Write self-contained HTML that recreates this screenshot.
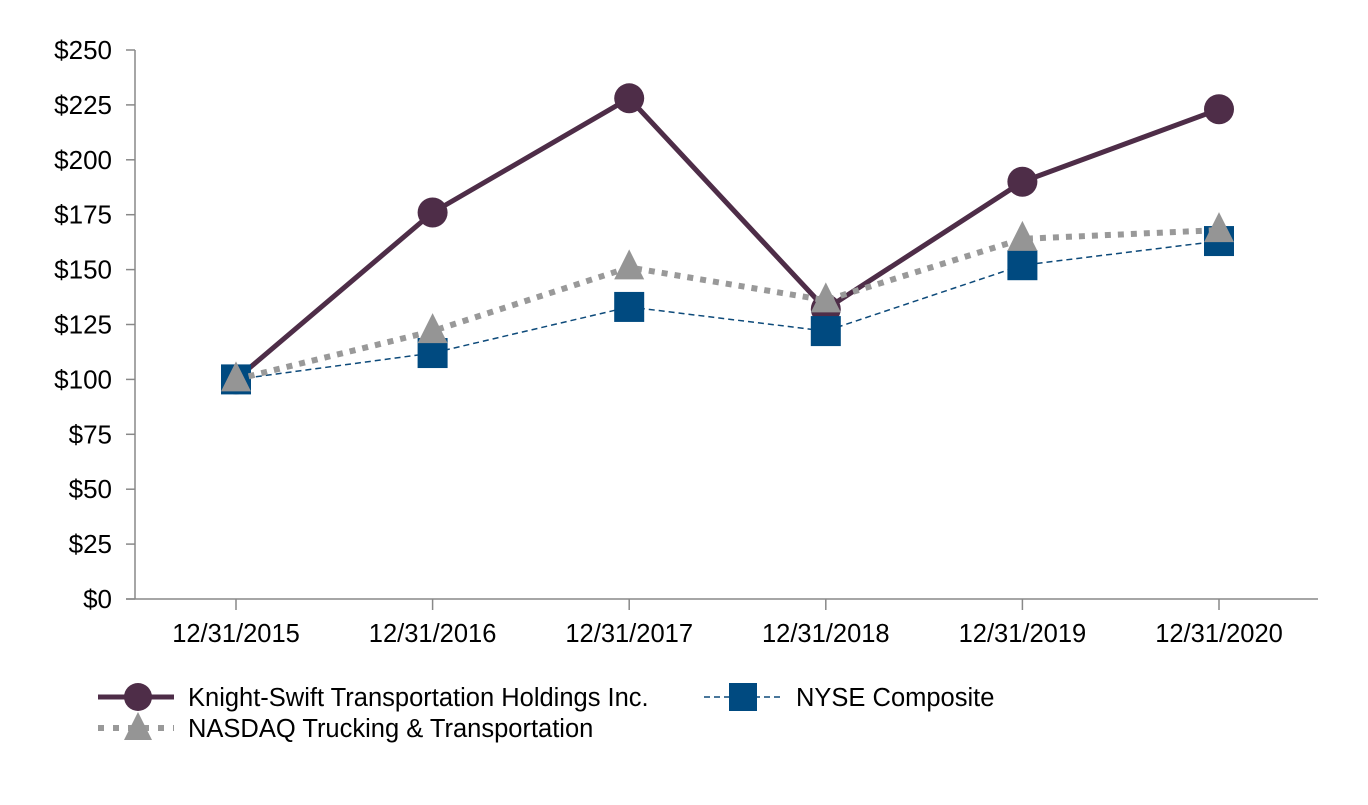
<!DOCTYPE html>
<html><head><meta charset="utf-8"><style>body{margin:0;background:#fff}svg{font-family:"Liberation Sans",sans-serif}</style></head>
<body>
<svg id="c" width="1368" height="800" xmlns="http://www.w3.org/2000/svg"></svg>
<script>
const categories=["12/31/2015","12/31/2016","12/31/2017","12/31/2018","12/31/2019","12/31/2020"];
const knight=[100,176,228,132,190,223];
const nyse=[100,112,133,122,152,163];
const nasdaq=[100,122,151,136,164,168];
const yTicks=[0,25,50,75,100,125,150,175,200,225,250];
const svg=document.getElementById('c');const NS="http://www.w3.org/2000/svg";
function el(t,a,p){const e=document.createElementNS(NS,t);for(const k in a)e.setAttribute(k,a[k]);(p||svg).appendChild(e);return e;}
const y=v=>599-v*549/250;
const x=i=>236+i*196.6;
const FS=25.5;
let g=el('g',{});
el('line',{x1:135,y1:50,x2:135,y2:599,stroke:'#888','stroke-width':1.5},g);
yTicks.forEach(v=>{el('line',{x1:126,y1:y(v),x2:135,y2:y(v),stroke:'#888','stroke-width':1.5},g);
const t=el('text',{x:112,y:y(v)+9,'text-anchor':'end','font-size':26,fill:'#000'},g);t.textContent='$'+v;
});
g=el('g',{});
el('line',{x1:126,y1:599,x2:1318,y2:599,stroke:'#888','stroke-width':1.5},g);
categories.forEach((c,i)=>{el('line',{x1:x(i),y1:599,x2:x(i),y2:610,stroke:'#888','stroke-width':1.5},g);
const t=el('text',{x:x(i),y:642,'text-anchor':'middle','font-size':FS,fill:'#000'},g);t.textContent=c;
});
function pts(d){return d.map((v,i)=>x(i)+','+y(v)).join(' ');}
// knight
g=el('g',{});
el('polyline',{points:pts(knight),fill:'none',stroke:'#4e2d48','stroke-width':5},g);
knight.forEach((v,i)=>{const c=el('circle',{cx:x(i),cy:y(v),r:15,fill:'#4e2d48'},g);});
// nyse
g=el('g',{});
el('polyline',{points:pts(nyse),fill:'none',stroke:'#0d4a7a','stroke-width':1.5,'stroke-dasharray':'6,4'},g);
nyse.forEach((v,i)=>{const r=el('rect',{x:x(i)-15,y:y(v)-15,width:30,height:30,fill:'#004a80'},g);});
// nasdaq
g=el('g',{});
el('polyline',{points:pts(nasdaq),fill:'none',stroke:'#999','stroke-width':6,'stroke-dasharray':'6,7'},g);
nasdaq.forEach((v,i)=>{const cx=x(i),cy=y(v);const p=el('polygon',{points:`${cx},${cy-18} ${cx-15},${cy+12} ${cx+15},${cy+12}`,fill:'#959595'},g);});
// legend
g=el('g',{});
el('line',{x1:98,y1:697,x2:174,y2:697,stroke:'#4e2d48','stroke-width':5},g);
el('circle',{cx:138,cy:697,r:14,fill:'#4e2d48'},g);
let t=el('text',{x:188,y:706,'font-size':FS},g);t.textContent='Knight-Swift Transportation Holdings Inc.';
el('line',{x1:98,y1:728,x2:174,y2:728,stroke:'#999','stroke-width':6,'stroke-dasharray':'6,9'},g);
el('polygon',{points:'138,712 124,740 152,740',fill:'#959595'},g);
t=el('text',{x:188,y:737,'font-size':FS},g);t.textContent='NASDAQ Trucking & Transportation';
el('line',{x1:704,y1:697,x2:782,y2:697,stroke:'#0d4a7a','stroke-width':1.5,'stroke-dasharray':'6,4'},g);
el('rect',{x:729,y:683,width:28,height:28,fill:'#004a80'},g);
t=el('text',{x:796,y:706,'font-size':FS},g);t.textContent='NYSE Composite';
</script>
</body></html>
